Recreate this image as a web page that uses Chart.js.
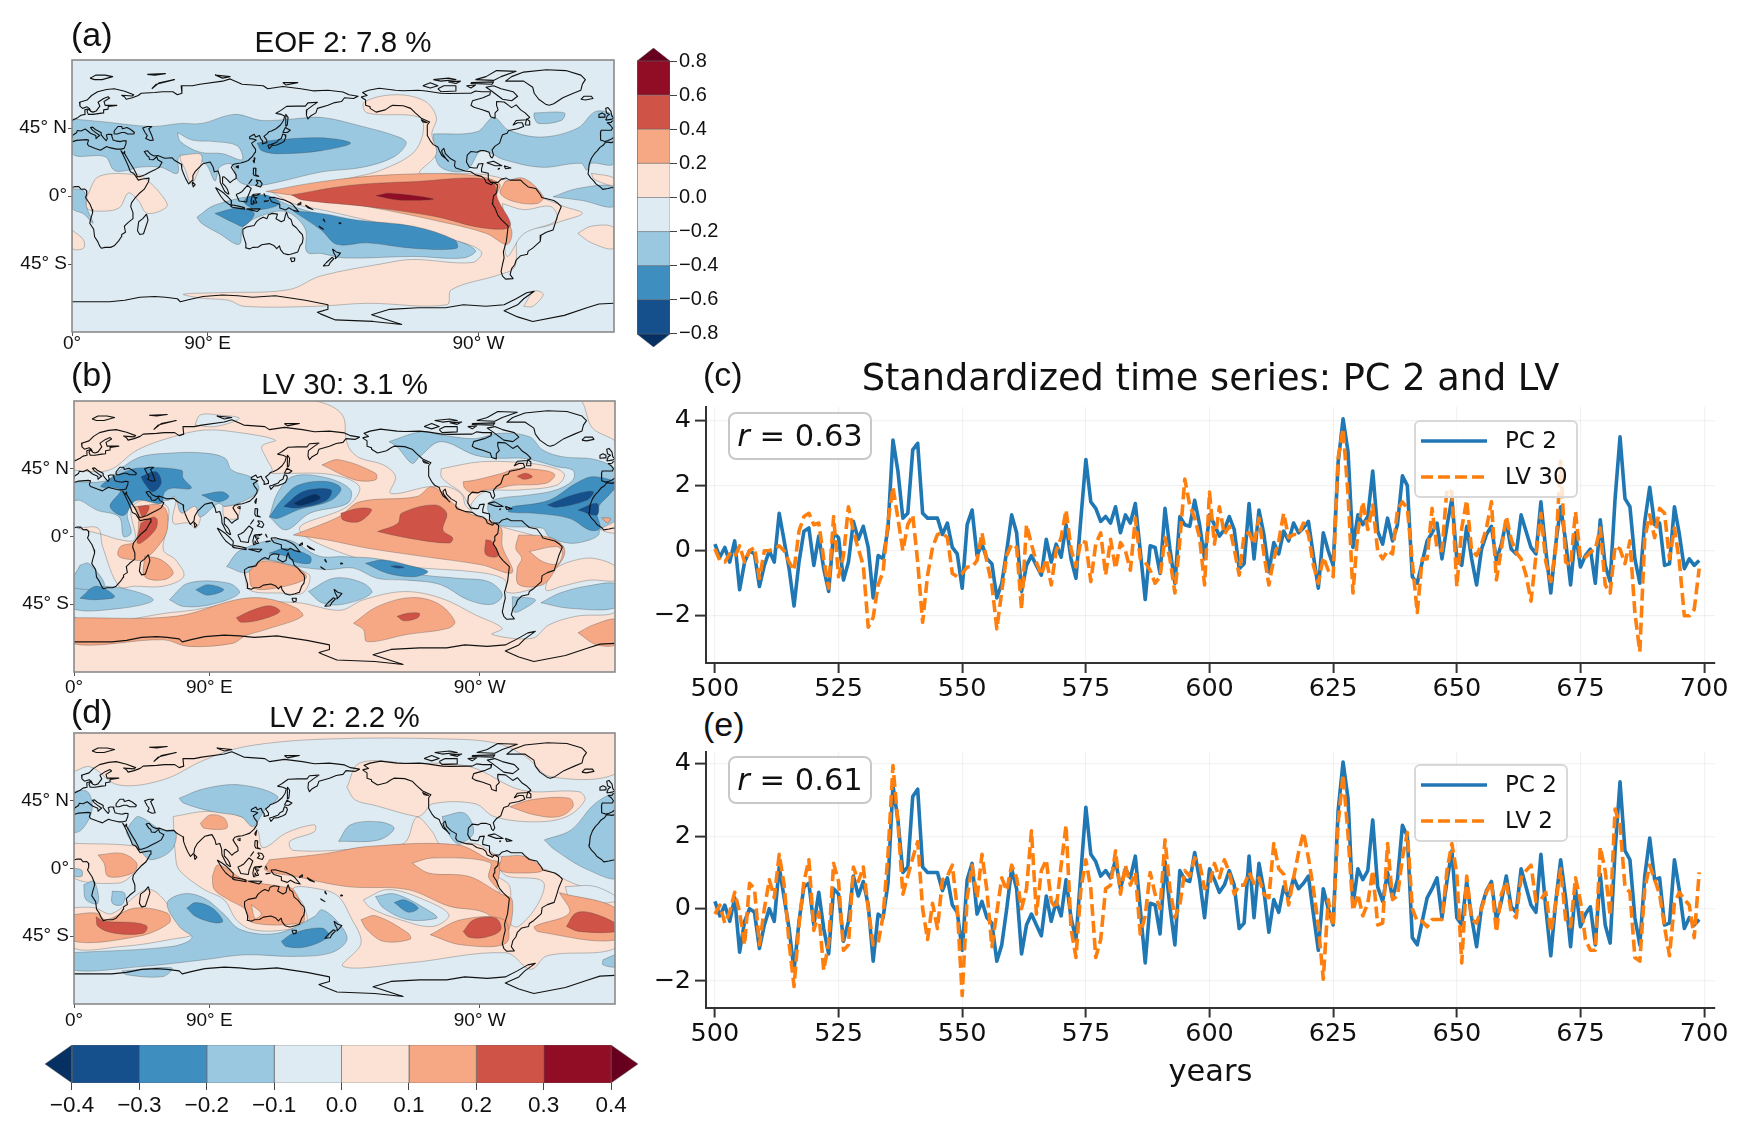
<!DOCTYPE html>
<html><head><meta charset="utf-8">
<script src="https://cdn.jsdelivr.net/npm/chart.js@4"></script>
<style>
html,body{margin:0;padding:0;background:#fff;width:1748px;height:1130px;overflow:hidden}
canvas{position:absolute;display:block}
.t{position:absolute;z-index:5;white-space:nowrap;color:#111}
.panel{font:34px/1 "Liberation Sans",sans-serif}
.rbox{z-index:6;box-sizing:border-box;border:2px solid #c8c8c8;border-radius:8px;background:rgba(255,255,255,.82);font:30.5px/1 "DejaVu Sans",sans-serif;display:flex;align-items:center;justify-content:center}
.leg{z-index:6;box-sizing:border-box;border:2px solid #d8d8d8;border-radius:6px;background:rgba(255,255,255,.8);font:23px/1 "DejaVu Sans",sans-serif}
</style></head><body>
<script>
// ---------- time series (standardized), years 500..699 ----------
const firstYear = 500;
const pc2 = [0.2,-0.2,0.1,-0.35,0.3,-1.2,-0.35,0,-0.1,-1.1,-0.45,0,-0.35,1.15,0.3,-0.55,-1.7,-0.35,0.6,0.7,
-0.45,0.45,-0.55,-1.25,0.55,0.4,-0.9,-0.35,0.9,0.35,0.75,0.1,-1.45,-0.15,-0.25,0.7,3.4,2.45,1.0,1.15,
3.1,3.3,1.15,1.0,1.0,1.0,0.5,0.85,0.1,-0.1,-1.15,0.8,1.25,-0.15,0.2,-0.25,-0.4,-1.45,-1.0,0,
1.1,0.55,-1.25,-0.45,-0.15,-0.45,-0.75,0.35,-0.35,0.2,-0.2,0.8,-0.25,-0.85,1.0,2.8,1.5,1.3,0.9,1.05,
0.85,1.35,0.55,1.1,0.85,1.45,0,-1.5,0.15,0.1,-0.7,1.3,0.05,-1.0,1.05,0.8,0.75,1.55,0.8,-0.25,
1.1,0.8,0.45,0.65,1.05,0.65,-0.55,-0.4,1.45,-0.25,1.25,0.5,-0.65,0.25,-0.1,0.6,0.3,0.85,0.55,0.7,
0.9,-0.15,-1.15,0.55,0,-0.45,2.7,4.05,3.05,0.1,1.1,0.8,1.05,2.45,0.6,0.2,1.0,0.3,0.8,2.3,
2.0,-0.8,-1.0,-0.35,0.3,0.55,0.85,-0.25,0.75,1.6,-0.25,-0.45,0.75,-0.25,-1.05,0.05,0.5,0.75,-0.3,0.2,
0.9,0.05,-0.1,1.1,0.6,0.1,-0.1,1.5,0,-1.3,0.2,1.35,0.3,-1.05,0.55,-0.5,-0.15,0.05,-1.0,0.95,
-0.45,-0.95,1.6,3.5,1.6,1.35,-0.25,-1.0,0.9,1.95,0.8,0.85,-0.45,-0.4,1.35,0.5,-0.55,-0.25,-0.45,-0.3];
const lv30 = [0.05,-0.3,-0.35,-0.1,-0.2,0.15,-0.35,0,0.1,-0.85,0,0,0.05,0.15,0,-0.35,-0.6,0.6,1.05,1.15,
0.8,0.85,-0.25,-1.15,1.05,-0.8,-0.15,1.35,0.6,0.05,-0.45,-2.35,-2.05,-1.05,-0.65,0.9,1.95,1.0,0,0.8,
1.1,-0.35,-2.2,-0.75,0.1,0.5,0.55,0.4,-0.7,-0.8,-0.7,-0.5,-0.5,-0.3,0.55,-0.35,-1.05,-2.4,-1.25,-0.15,
0.2,0.1,-1.8,0.8,0.2,-0.35,-0.75,-0.25,-1.05,0,0.4,1.25,0.05,-0.5,0.3,0.25,-0.95,0.2,0.55,-0.75,
0.35,-0.55,0.25,0,-0.6,1.0,-0.25,-0.35,-0.6,-1.0,-0.8,0.4,-0.25,-1.3,0.3,2.2,1.4,1.0,0.4,-1.05,
1.8,0.2,1.35,0.5,0.75,0.05,-0.75,0.5,0.55,0.2,1.0,-0.1,-1.05,-0.25,0.3,1.15,0.4,0.5,0.5,0.85,
0.5,-0.45,-1.0,-0.2,-0.6,-0.8,2.85,3.75,1.75,-1.3,0.6,1.5,0.65,1.4,0,-0.25,0,-0.1,1.25,1.5,
1.3,-0.35,-1.9,-0.25,-0.25,1.3,0.05,0,1.9,1.8,-1.1,0.7,1.55,0,-0.15,0.2,0.7,1.5,-0.9,0.05,
1.05,0.35,-0.05,-0.25,-0.75,-1.55,-0.15,1.15,-0.35,-0.95,0.05,2.75,-0.35,-0.45,1.2,-0.25,-0.2,-0.05,0.05,0.7,
-1.05,-1.3,0.15,0.05,-0.4,0.3,-1.9,-3.1,0.4,1.1,0.4,1.3,1.15,-0.25,0.7,-0.35,-2.0,-2.0,-1.8,-0.55];
const lv2 = [-0.15,0.1,-0.4,-0.1,0.45,-0.1,-1.0,0.7,0.55,-1.0,0,0.8,0.3,1.5,0.65,-0.95,-2.15,-0.45,0.75,1.35,
-0.6,-0.1,-1.7,-0.95,1.25,0.75,-1.15,-1.0,1.15,0.75,1.15,0,-1.0,-0.95,-0.2,1.5,3.95,2.4,0.4,0.9,
1.4,1.85,0,-0.85,0.15,-0.55,0.8,0.9,1.2,0,-2.4,0.3,1.2,0.3,1.5,0.5,-1.05,-0.1,0.85,0.5,
1.2,0.85,0,0.55,2.15,-0.15,1.05,1.35,0.2,0,1.2,2.3,-0.55,-1.35,0.55,1.35,0.55,-1.35,-0.85,0.55,
0.65,1.6,0.4,1.2,0.65,1.0,-0.7,-0.2,1.0,0.4,0,1.9,0.55,-0.25,0.1,1.05,0.9,1.4,1.25,0.55,
0.65,1.25,0.85,1.35,1.0,0.4,0.65,0.65,1.0,0.7,0.85,0.4,0.3,1.8,1.1,0.95,0.1,0.85,1.55,2.1,
1.4,0.55,-0.45,-1.95,0.25,-0.5,2.35,3.7,2.05,-0.05,0.4,-0.2,0.15,1.05,-0.45,-0.4,1.8,0.25,0.35,1.4,
2.1,0,-0.35,-0.35,-0.5,-0.3,-0.3,-0.3,1.05,1.8,0.95,-1.5,0.9,-0.3,-0.4,0,0.45,0.75,-0.65,0.4,
0.75,-0.1,-0.25,0.85,1.05,1.2,0.2,0.25,0.45,-0.65,0.15,1.1,-0.3,-0.5,0.85,0.2,-0.85,-1.15,-1.15,1.7,
1.05,-0.2,2.75,2.3,0.6,0.45,-1.35,-1.45,0.55,1.2,0.8,0.4,-0.5,-1.3,0.15,0.45,0.25,0.1,-0.8,1.0];
const yearTicks = [500,525,550,575,600,625,650,675,700];
const seriesTicks = [-2,0,2,4];
const mapLonTicks = [0,90,270];
const mapLonLabels = ["0°","90° E","90° W"];
const mapLatTicks = [-45,0,45];
const mapLatLabels = ["45° S","0°","45° N"];
const eofBarTicks = [-0.8,-0.6,-0.4,-0.2,0,0.2,0.4,0.6,0.8];
const lvBarTicks = [-0.4,-0.3,-0.2,-0.1,0,0.1,0.2,0.3,0.4];
// ---------- contour colours ----------
const levelColors = {"-0.9":"#053061","-0.7":"#15508d","-0.5":"#3f8ec0","-0.3":"#9ac8e0","-0.1":"#deebf2","0.1":"#fce2d4","0.3":"#f6a885","0.5":"#cf5347","0.7":"#910d26","0.9":"#67001f"};
const globe = [0,-90,360,-90,360,90,0,90];
// ---------- panel (a) EOF 2: contour regions as [level, lon,lat,...] ----------
const eofRegions = [
[-0.1,globe],
[-0.3,[0,51,22,49,53,46,72,48,86,48,108,54,126,50,147,51,166,52,193,46,217,39,222,35,214,26,193,19,166,16,138,9.5,123,7,111,9.5,106,21,98,19,95,10,89,21,79,26,71,26,70,15,59,19,44,19,37,17,28,17,22,26,0,28]],
[-0.1,[70,42,80,37,95,36,110,33,113,24,100,28,85,29,72,36]],
[-0.3,[240,41,269,42.5,280,52,290,43.6,312,39,336,45,348,56,360,52,360,21.6,345,21.6,342,17,338,21.6,312,19,287,24,272,30,262,17,245,19,240,32.6]],
[-0.3,[307,55,327,55,325,50,310,48,307,52]],
[-0.3,[319.5,-0.5,336,5,360,6,360,-7,339,-3]],
[-0.3,[0,5,8,3,10,-8,14,-18,8,-12,0,-8]],
[-0.3,[83,-14,95,-6,126,0,147,-7,172,-14,212,-20,251,-28,268,-36,260,-41,226.5,-40,181,-41,165.5,-38,156,-37,155,-22,144,-11,132,-11,114,-20,111,-32,98,-25,86,-18]],
[0.1,[72,27,86,27,82,12,79,8,75,18,72,24]],
[0.1,[132,3,160,7,190,13,205,17,226,28,233,41,231,52,196,55,194,62,214,67,234,63,242,52,239,41,242,28,231,15,257,15,275,14,290,10,300,4,327,-7,339,-11.5,324,-17,315,-20,297,-25,294,-47,284,-52,252,-62,249,-72,196,-71,162,-73,114,-73,104,-69,86,-67.6,74,-65,98,-64,144,-62,165,-53,208,-44.5,226,-42,266,-44,272,-37,257,-30,228,-23,196,-16,170,-10,147,-5]],
[-0.1,[286,-5,300,-9,318,-7,322,-16,300,-25,289,-40,287,-20]],
[0.1,[300,-73,307,-63,313,-65,306,-73]],
[0.1,[10,0,18,13,44,14,50,10.5,60,0,63,-7,50,-11.5,44,-3,37.5,2,31,-8,16,-10,10,-8]],
[0.1,[336,-24.7,345,-20,360,-21,360,-34.6,345,-31]],
[0.1,[0,-22.5,7.6,-29,7.6,-34.6,0,-34.6]],
[0.1,[345,15,360,12,360,7,347,11]],
[-0.5,[123,35,135,37,165.5,38.5,185,35,165.5,30,138,28,126,30]],
[-0.5,[95,-11.5,111,-8,121,-11.5,114,-20,108,-18]],
[-0.5,[147,-10,165.5,-11.5,190,-16,226.5,-20,254,-29,255.5,-34.6,226.5,-34.6,196,-31,176,-32,165.5,-22.5]],
[-0.5,[117,-0.5,129,0.6,138,-5,123,-9,114,-4]],
[0.3,[129,3,165.5,9.5,211,14,263,14,284,8,281,-2.6,292,-22.5,289,-32,275,-24.7,245,-17,196,-7,160,-1.5]],
[0.3,[287.5,9.5,300,11.7,313,-0.4,309,-5,293.6,-3.7,284.5,1.8]],
[0.5,[146,0.7,184,7,226.5,9.5,278,10.6,283,-2.6,291,-20,272,-21,242,-13.7,196,-7,153,-2.6]],
[0.7,[202,0.2,211,1.8,240,-2,217,-2.6]]
];
// ---------- panel (b) LV 30 ----------
const lv30Regions = [
[0.1,globe],
[-0.1,[-2,44,23,44,42,57.4,65,66,87,70.7,110,69,134,64,125,60,128,52,132,44,130,42,140,42,172,41,190,33,182,20,150,5,184,-13,222,-20,271,-24,287,-29,288,-37,304,-35,323,-24,362,-20,362,-48.8,334,-53,316,-58.7,305,-67.6,278,-65,285,-61,267,-52,244.4,-41,219.7,-36.6,192.7,-42,177,-49,149,-44,108,-44,70,-50,-2,-51]],
[-0.1,[148,92,334,92,345,72,362,60,362,-20,323,-24,320,-6,283,7,276,9,261,20,258,28,249,33,242,33,235.4,33,210.7,28.7,214,39.7,206,47.5,190.5,52,184,57.4,181,65,179,80,168,88]],
[-0.1,[80.5,74,84,80.7,96,80.7,110,78.5,94,73]],
[0.1,[318,-22,330,-16.7,345.5,-14.5,362,-21,362,-29,343,-29,325,-33,314,-35.5]],
[0.1,[244.4,45,271.4,49.7,303,48.6,321,45,326.4,40.8,321,34,296,30.9,273.6,29.8,264.6,22,264.6,17.6,258,28.7,249,35.3,244.4,39.7]],
[0.1,[350,12,362,17,362,3,350,5]],
[0.1,[2.4,5.5,16,5.5,19,-6.6,30,-33,40.5,-33,59.5,-33,73,-26.5,67.6,-15.5,59.5,-9,62,6.6,62,20,46,24,38,18,40.5,-2,30,-2,20,1]],
[0.1,[68,24,78.5,24,84,13,81,5.5,76,9,66,9]],
[0.1,[99,20,110,20,108,12,100,13]],
[0.1,[114,-24,125,-15.5,149,-22,157,-26.5,152,-37.6,138,-37.6,116.5,-35.4]],
[-0.3,[22,37,42,52,64.7,55.4,87,55.4,100.5,52,105,44,118.7,39,123,31,114,24,100.5,20,96,22,84,13,80.5,20,71.5,15.6,67,26.4,62.5,24,42,24,35.5,15.6,38,2.3,33,0,30,13,15,17.6,4,24,-2,24,-2,35,15,36]],
[-0.3,[130,13,135.5,29,146,40,168,39,184,31,182,22,157,15.5,141,4.4]],
[-0.3,[101.5,-20,111,-9,141,-2,163,-13,180,-13.4,206,-15.6,226.4,-24.4,255.6,-27.8,276,-30,285,-38.8,278,-45,262,-42,244,-32,222,-29,201.7,-27.8,186,-21,168,-22,149,-20,125,-15.5,115,-24]],
[-0.3,[156,-36.5,173.5,-27.6,192.5,-31,198,-37.6,179,-45,165,-44]],
[-0.3,[63.5,-42,76,-31,103,-31,110,-37.6,92,-45,73,-46.5]],
[-0.3,[-2,-33,30,-34,52.7,-42,32,-47.6,-2,-47.6]],
[-0.3,[4,-19,10,-18,20,-33,-2,-33]],
[-0.3,[310.7,-44,323,-37.7,341,-33,362,-32,362,-46.6,330,-47.7]],
[-0.3,[291.6,-40,307,-42,298,-48.8,292.7,-50]],
[-0.3,[209.6,63,231,69.6,244.4,67.4,267,65,282.6,68.5,303,66.3,312,57.4,325,53,348,50.8,362,42,362,13,350,4.4,349,1,343,-2.3,330,-4.5,316,0,312,5.4,282.6,7.6,276,15.4,276,22,282.6,25.3,303,27.6,321,31,332,37.5,332,44,321,46.4,309.6,49.7,298,52,282.6,52,267,54,244,63,230,53,225,48.6,215,59.6]],
[-0.5,[29,41,42,45.4,71.5,44,72.5,39,78,32,64.7,32,60,29,58,22,41,24,33,14,24,20,31,31,18,33,22,37]],
[-0.5,[85,27.6,98.5,29.7,103,26.4,96,23]],
[-0.5,[130,13,138,24,149,34,168,36.5,177.6,32,171,24,149,17.7,135.5,12]],
[-0.5,[130,-11,141,-8,157,-13,157,-17.7,146,-16.6,141,-13]],
[-0.5,[194,-17.8,206,-15.6,222,-19,235.4,-23.3,226.4,-26.7,208.5,-24.4]],
[-0.5,[81,-35.4,89,-32,99.6,-35.4,89,-39]],
[-0.5,[4,-41,14.7,-33,27,-40,13.5,-42]],
[-0.5,[291.6,19.8,316,24,334,35.3,345.5,39.7,362,35,357,28.7,348,17.6,350,5.4,343,4.3,330,12,307,15.4,289,16.5]],
[-0.7,[139.6,20,153,30,171,31,168,24,149,19]],
[-0.7,[44.6,39.7,54.6,43,58,35.5,52.4,29.7,46.8,35.5]],
[-0.7,[315,21,332,27.6,345.5,29.8,341,24,321,19.4]],
[-0.7,[335.4,17.6,348,22,348,14.3]],
[-0.7,[210.7,-19.6,215,-19.4,219.7,-20.5,215,-21]],
[-0.9,[146,22,160,28,164,25.4,151,20.6]],
[0.3,[-2,-54,67.6,-53,108,-42,127,-41,148,-47.6,152,-53,127,-62,114,-66,105.6,-71,76,-73,59.5,-68.6,-2,-71]],
[0.3,[186,-57.6,201.7,-46.6,224,-40.6,242,-44.4,253.4,-56.5,249,-61,222,-65,195,-69.8,192.7,-62]],
[0.3,[335.4,-64,345.5,-58.7,362,-55.4,362,-71,348,-72]],
[0.3,[146,1,176,13,190,23,228,26.5,238.7,33,257.7,17.7,283.5,6.6,285,-6.6,291.6,-24,271,-18.8,230.5,-13,195,-7.7,168,-2.2]],
[0.3,[165,47.6,176,51,200.7,42,200.7,37.6,187,37.6]],
[0.3,[259,36.4,267,37.5,285,42,294,45,314,43.7,320,40.8,314,35.3,291.6,34,282.6,32,273.6,30.9,266,28.7,260,32]],
[0.3,[296,1,314,0,325,-5.6,326.4,-12,321,-21,312,-32,296,-32,295,-21,298,-14.5,294,-8]],
[0.1,[303,-10,321,-6.7,325,-10,322,-18,312,-16.7]],
[0.3,[351,12.5,357,12,355,9]],
[0.3,[40.5,20,59.5,20,62,4.4,54,-8.8,46,-15.5,39,-15.5,29.6,-13,31,-6.6,40.5,-3.3,43,11]],
[0.3,[47,-13,58,-15.5,66,-24,59.5,-28.8,47,-26.5]],
[0.3,[116.5,-23,125,-16.6,149,-21,154.5,-27.6,135.5,-34,119,-34]],
[0.5,[44.5,8.8,52.7,13,55.4,11,54,4.4,44.5,-4.4,42,-4]],
[0.5,[42.6,20,50,20,46,13]],
[0.5,[177.6,15.5,190,18.8,198,17.7,190,10,179,11]],
[0.5,[202,3.3,215.6,8.8,218,15.5,240,21,248,15.5,245.5,4.4,252,-1,249.6,-4.4,222,-1]],
[0.5,[274,-2.2,278,-3.3,282,-13,274,-12]],
[0.5,[108,-54,116.5,-49.8,130,-46,137,-49.8,124,-55.3,111,-56.9]],
[0.5,[215,-53,222,-51,229.8,-51,228.7,-54,219.7,-56]],
[0.5,[295,40,300.6,42,305,39.7,299.5,38]]
];
// ---------- panel (d) LV 2 ----------
const lv2Regions = [
[-0.1,globe],
[0.1,[-2,92,362,92,362,64,317,61,301,74,282,83,249.5,86,168,86,114,81,86.6,72,59.5,59,29.6,55.5,10.6,67.7,-2,65]],
[0.1,[181.6,54,190,70,222,70,263,67.7,298,52,336,51,340,45.6,328,34.5,306.5,31,279.5,34.5,267,43,238.7,43,232,36,228,34.5,200,42,187,45.6]],
[0.1,[66,34.5,89,38,111,34.5,122,25.7,124.6,14.6,128.7,14.6,141,23.5,160,29,160,24.5,143.6,18,146,12,195,13.5,219.7,16.8,228,34,238,25,245,15,265.8,16.8,283.5,8,314.7,-1,327,-7.5,362,-25,362,-51.8,314.7,-58,304,-67,287.5,-56,222,-62.8,179,-65,191,-49.6,184,-32,176,-18.6,165,-14,146,-13,153,-25,154.5,-36,141,-40.7,119,-40.7,108,-34,100,-20.8,86.6,-14,70,-1,67.6,8]],
[-0.1,[282,1.3,288,-5,312,-8.6,309,-23,295.7,-38.5,290,-36,290,-12,281,-4]],
[-0.1,[192.5,-20.8,209,-14,233,-20.8,249.5,-30.8,238.7,-38.5,217,-34,197.5,-26.3]],
[-0.1,[327,-12,347,-12,362,-20.8,342,-23,329,-18]],
[0.1,[-2,16.8,43,14.6,50,9,40,-3,29.6,-9.7,-2,-5]],
[0.1,[-2,-26,13.3,-26,25,-30,50,-14,69,-32,79.8,-43,65,-47,32,-51.8,-2,-51.8]],
[-0.3,[-2,-56,65,-51.8,78.5,-46,70,-38.5,62,-23,73,-16.8,86.6,-19.7,99,-29.6,111,-40.7,135.5,-43,160,-31.9,165,-27.4,176,-36,181.6,-47.3,171,-56,146,-58.4,113.8,-57.3,86.6,-60.6,46,-65,-2,-67.3]],
[-0.3,[32,-68,65,-66,59.5,-71.7,35,-70.6]],
[-0.3,[352,-60.6,362,-57.3,362,-65,352,-64]],
[-0.3,[70,46.7,86.6,53,111,55.5,135.5,47.8,127,39,119,27.9,111,34.5,92,37.8,73,43.4]],
[-0.3,[-2,51,9,51,12,39,5,25.7,-2,24.6]],
[-0.3,[37.7,30,43,34.5,58,25.7,67.6,24.6,65,12.4,51.3,5.8,44.5,11.3,35,23.5]],
[-0.3,[176,18,184,29,203,31,213,26.8,203,19]],
[-0.3,[245,34.5,260,36.7,265.8,23.5,255,16.8,246.8,27.9]],
[-0.3,[313,19,331,25.7,347,43.4,362,48.9,362,-5.3,342,-0.9,320,12.4]],
[-0.3,[200.6,-18.6,214,-17,238.7,-29.6,241.4,-33,222.4,-34,206,-26.3]],
[-0.3,[6.5,-10.8,13.3,-8.6,16,-23,8,-20.8]],
[-0.3,[25.5,-15,33.7,-16.4,32,-24,25.5,-23]],
[-0.3,[-2,0.2,5,-1,5,-5.3,-2,-4.2]],
[-0.5,[75,-26.3,81,-22.6,92,-26.3,99,-35,93.4,-36,81,-31.9]],
[-0.5,[138,-48.4,146,-43,165,-39.6,169.4,-45,154.5,-52,141,-51.8]],
[-0.5,[213,-22.6,219.7,-20.8,229,-26.3,222.4,-29]],
[0.3,[92,-5.3,96,2.4,113.8,-7.5,138,-12,146,-14,153,-30,152,-36,119,-36,113.8,-27,103,-20.8,93.4,-14]],
[0.1,[118,-24,124.6,-30,120.5,-33]],
[0.3,[130,5.8,168,10,195,14.6,255,15.7,276.7,5.8,283.5,3.5,282,-15,291.6,-20.8,287.5,-43,274,-29.6,249.5,-25,222,-14,181.6,-12,146,-5,127,-1]],
[0.1,[225,3.5,238.7,7,276.7,4,276,-6,283.5,-16,263,-5.3,236,-3]],
[0.3,[284.8,8,299.8,8,312,-1,298,-3,283.5,-1]],
[0.3,[323,-16,362,-27.4,362,-47,309,-42,306.5,-38.5,329.6,-29.6]],
[0.3,[237,-44,257.7,-34,286,-34,287.5,-49.6,257.7,-50.7]],
[0.3,[191,-34,200.6,-31.4,222.4,-43,223.7,-47,206,-48.4,195,-40.7]],
[0.3,[290,41,304,45.6,329.6,46.7,332,41,322.8,34.5,306.5,35.6]],
[0.3,[16,9,32,10,41.8,3.5,39,-3,22.8,-5.3,20,3.5]],
[0.3,[-2,-30.8,14.7,-29.6,21.4,-34,40.5,-26.3,62,-29.6,63.5,-36,43,-45,-2,-47.8]],
[0.3,[84,30,90.7,35.6,100,33.4,101.5,26.8,86.6,26.8]],
[0.5,[14.7,-32,20,-35,40.5,-36,48.6,-38.5,46,-43,27,-43,16,-38.5]],
[0.5,[259,-41.8,266,-34,280.7,-33,284,-40.7,274,-45.6,262.8,-45.6]],
[0.5,[327.7,-38.5,334,-29.6,344.6,-29.6,362,-37.4,362,-41.8,336,-41.8]]
];
// ---------- coastlines, lon,lat ----------
const coastlines = [
[0,5.6,2,6.3,4.5,6.2,6,4.5,8.5,4.6,9.6,3.5,9.8,1,9,-1,11,-4,12,-5.5,13.4,-9,13.7,-11,12.5,-15,11.8,-18,14.4,-22,15,-27,17,-30,18.3,-33,19.5,-34.6,22,-34,25.6,-34,28,-33,31,-29.7,32.8,-27,33,-25.5,35.5,-24,34.8,-20,37,-17.8,40.5,-15,40.5,-11,39,-7,39.5,-4.5,41.5,-1.8,45,2,48,4.5,50.8,9.5,51.2,11.8,47,11.2,44,10.5,43.2,11.7,41,15,38.8,16,37.3,20,35.5,24,33.8,27.5,32.6,29.8,32.5,30,34,27.9,34.9,29.5,35,28,36.5,25.5,38.8,21.5,41,18,42.8,14.5,43.4,12.7,45,12.8,48.5,14,52.2,16,55,17.3,58,19,59.8,22.4,57,24,56.3,26,54,24,51.5,24.2,51,26,50,26.5,48,29.5,50,30,52,27.8,54.5,26.5,57,26.8,61.5,25,66.5,25.3,68,23.7,70,22.5,72.6,21,72.9,18,74,15,75.5,11.5,77.5,8,79.8,10.3,80.3,13.5,82,16.5,85,19.5,87,21.4,89.5,22,91.8,22.5,93.8,19,94.5,16,97,16.6,98.2,13,98.5,9,100,6,101.5,3,103.5,1.4,104.2,1.4,103.2,4.5,102,6.3,100,8.3,100,12.5,101,12.7,103,11,105,8.8,107,10.5,109.2,11.8,109,14,107,17,105.8,19,107,20.8,109.7,21.5,112,21.8,114,22.4,117,23.5,119.7,26,121.7,29,121.9,31,120,33.5,119.3,35,122.3,37,120,37.8,118,38,118,39.2,121,40.8,122,39,124.5,40,125.3,38,126.6,36.5,126.5,34.5,129.2,35.3,129.4,37,127.5,39.5,129.7,41.3,130.7,42.5,132.5,43,135.5,44.5,138.5,47,140.5,50,141.3,53,139,54,135.5,54.7,138.5,56.5,142.5,59.3,149,59.5,155,59.5,156.7,61.6,163,62,160,60,156,57,155.7,53.5,156.7,51,158.5,53,162,55,163,58,170,60,174.5,61.8,179,62.5,181,65,187,64.5,190,66,184,67,180,68.8,170,70,160,69.6,152,71,140,72.5,130,71,127,73,113,74,105,77.5,100,76,85,74,80,73,72.5,73,73,68,70,67,67,69,60,69,55,68.5,46,68,44,66.5,40,65,36,64,35,65.5,33,66.7,40,66.2,41,67,35,69.3,28,71,23,70.5,17,69,13,66.5,10,63.5,5,62,5.3,59.5,7,58,10,59,11.5,58,12.5,56,10.7,57.6,8.5,57,8.7,54,6,53.4,4,52,2,51,0,50],
[12.5,56,14,55.5,16,56.2,18.5,59.5,17.3,62,21,64.5,24,65.7,25,64.8,21.3,62.5,22,60,24.8,60,29.8,60,24,59.2,24,57.5,21,57,21,55,18.5,54.7,14,54,10.8,54,10,56,10.7,57.6],
[360,49.8,358.5,49.5,358,48.7,355.5,48.4,357.5,47,359,45,358.2,43.5,351.5,43.5,351,42,351,38.7,351.2,37,354,36.1,356,36.7,358,37.5,359.5,38.5,360,38.8],
[0,38.8,0.2,40,3,41.8,3.5,43.3,6,43,8.8,44.3,10.5,43,12.3,41.5,15.8,40,16,38,17,39,18.4,40,16,41.8,13.6,43.6,12.3,45.3,13.7,45.6,15.5,44,19.3,42,19.4,40.5,21,38.5,22.7,36.6,23.5,38,22.8,40.4,24,40.8,26,40.8,26.5,39.5,27.3,37,29,36.5,32,36,34,36.6,36,36.5,35.8,34.5,34.6,31.5,32.5,31,29.5,31,25,32,23,32.7,20,31,19,30.3,15.5,31.5,11,33.2,10.2,34.5,11,37,9.5,37.3,3,36.8,0,35.8],
[360,35.8,358,35.3,354.5,35.8,353,33.7,350.5,32,349,30,347,28,345,25,343.5,21,343,16,342.7,14.7,344.5,12,346.5,10,348,8,351,6,352.5,4.4,356,5,358,5.5,360,5.6],
[28,41,28,43,30.5,46,33,46,33.5,44.5,36.5,45.3,39,44,41.5,42,41,41,37,41,35,42,33,42,30,41,28,41],
[50,46,47,45,48.5,42,50,40,49,38,52,36.7,54,37,53,40,51,44.5,53,46,50,46],
[49.5,-12,50.5,-16,47.5,-25,45,-25.5,43.5,-23,44.3,-17,47,-15,49.5,-12],
[113.5,-22,116,-20.5,121,-19.5,122.5,-17,125,-15,127,-14,129.5,-15,130.5,-12.4,133,-11.5,136.5,-12,135.5,-15,139,-17,141,-16,141.7,-12.8,142.5,-10.8,143.7,-14.3,145.5,-15.5,146.5,-19,149,-21,151,-23.5,153,-25.5,153.5,-28,153,-31,151.5,-33,150,-37,147,-38,145,-38.5,143.5,-38.8,140.5,-38,138.5,-35.5,137.8,-33,136,-34.8,134,-32.7,131,-31.5,126,-32.3,123.5,-33.9,120,-34,118,-35,115.2,-34.3,115.5,-31.5,114.2,-27.5,113.5,-25,113.5,-22],
[173,-35,175.5,-37,178.3,-37.8,176.5,-40,175,-41.5,175,-39.5,174,-38,173,-35],[172.7,-40.7,174,-41.5,171.5,-44,170.5,-46,167,-46.3,169,-44,172.7,-40.7],
[145,-41,148,-41,147.8,-43,146,-43.5,145,-41],
[131,-1,134,-0.8,138,-2,141,-2.7,145,-4.5,147,-6,150.5,-10.3,147,-9.5,144,-7.8,142,-9.2,138,-8,138,-5.5,133,-4,132,-2.8,131,-1],
[109,1,111,1.8,113,3,116.5,7,119,5,117.8,2,116.5,-1,116,-4,111,-3.3,110,-1,109,1],
[95.3,5.6,98,4,101,1.8,104,-1,106,-3.2,105.8,-5.8,104.5,-5.7,101,-3,98.7,0,95.3,5.6],
[105.2,-6.7,106.8,-6,110.5,-6.7,114.5,-7.7,114.5,-8.7,110,-8,106.5,-7.4,105.2,-6.7],
[116,-8.5,119,-8.4,125,-8.5,123,-10.3,120,-9.5,116,-8.5],
[119.8,0.8,121,1.2,125,1.5,123,0.5,120.5,0.3,121,-1,123,-1,121.5,-2,122.8,-4.5,121.5,-4.8,120.5,-3,120.4,-5.5,119.5,-5.4,119,-3,119.8,0.8],
[127.5,1.7,128.5,-0.5,127.8,0.5,127.5,1.7],[127.5,-3.3,130.5,-3.2,128,-3.7,127.5,-3.3],
[120.5,18.5,122.2,18.4,122,16,122,14,124,13,121,13.6,120.3,15,120.5,18.5],[122.2,10.5,125,10,126.3,8,125.3,6,122,7,123.5,8.5,122.2,10.5],[118,9,119.5,11,117.5,8.3,118,9],
[130,33.5,132,34,136,35.6,137,37,139,38,140,41,141.5,40.5,142,39,140.8,36,139,35,136,33.8,133,33.5,131,31.3,130,33.5],
[140,42,141.7,45.3,145,43.5,143,42,141,42,140,42],[142,46,142,54,143.5,52,143,47,142,46],
[120.2,23,121.5,25.2,121,22,120.2,23],[108.7,19.3,110.5,20,110.5,18.5,108.7,19.3],[79.8,9.5,81.8,7.5,80.5,6,79.8,9.5],
[155,-6,160,-9,157,-8,155,-6],[150,-5.5,152,-4.2,152,-5.5,150,-6,150,-5.5],[167,-15,168,-17,167,-16,167,-15],[164,-20,167,-22,165,-21,164,-20],[177.5,-17.5,178.7,-18,177.5,-18.3,177.5,-17.5],
[354.5,50.2,358,50.7,359.9,51.5,358.5,53,358,56,356,58.5,354.5,58,355,55,357,54,355.5,53,355,51.5,354.5,50.2],[350,52,353.5,52.2,354,54,352,55,350,54,350,52],
[338,64,340,66,345,66,346,64.5,341,63.5,338,64],
[317,60,320,61,326,65,333,68,338,70,339,74,341,77,338,80,328,83,315,83.5,300,82,292,79,288,76,300,76,306,72,307,68,310,64,315,60.5,317,60],
[192,65.5,196,66.5,193,68.5,197,70,204,71.3,215,70,220,69.7,230,70,235,69.5,245,68,250,67.8,262,68,265,68,268,69.5,272,69,278,69,277.5,67,273,65,266,63,265,60,267,58.7,272,57.3,277,55.5,278,52.5,281,51.5,281,55,283,57,282,60,282,62.5,287,62.2,290,60,292,58.5,295,60.3,298,57,301,55,304,52,302,50.5,295,50,293,47,296,48.5,299,48.5,300,46,296,44.5,293.5,44,290,43.3,289,41.5,286,40.5,285,38,284,35,281,33,279,30.5,280,27,279,25.2,278,26,277,29,274,30,271,30,269,29,265,29.5,262.5,27,262,22.5,264,19,267,18.5,269,18.5,270,21.2,273,21.5,272,18,272,16,276.5,15,276.5,11,278,9,281,9,283,9,285,11,287,11.5,288,12,291,10.5,298,10.5,300,8.5,303,6,308,5,311,1,312,-1,316,-2,320,-3,323,-5,325,-7,322.5,-13,321,-18,319.5,-22.5,315,-24,311.5,-26,311,-30,306,-34.5,303,-36.5,302.5,-38.5,298,-39.5,295,-42.5,294,-45.5,292,-48,291,-52,293,-54.7,288,-55,286,-53,285,-50,286,-45,287,-41,286.5,-37,288.5,-30,289.7,-20,285.5,-16,283,-13,281,-8,279,-5,279.5,-3,280,0,282,2,282.5,6,282.5,7.5,280,9,278.5,7.5,275,9,274,11.5,272,13,268,14,265,16,261,16.5,255,18.5,254,20,254.5,23,251,25,248,28,247,31.5,245.5,30,246,28,249,24,250,23,248,25,245.5,27,244,30,243,32.5,240,34,238,36.5,236,40,236,43.5,236,47,237.5,49,232,51.5,228,55,225,58,220,59.7,213,60,211,59,208,57,202,55.5,198,58,198,59,195,60,195,63.5,192,65.5],
[280,73,285,71,293,69,296,66,292,63,286,64,282,67,278,70,275,72,280,73],[243,71,247,73,255,73,255,69.5,245,69,243,71],[233,73,238,75,243,73,238,71.5,233,73],[268,77,275,79,282,83,295,82.5,285,79,280,76.5,268,77],[265,75,280,75.5,279,74,265,74.5,265,75],[250,75.5,258,76,255,74.5,250,75.5],[262,73,268,73.5,265,71.5,262,73],[240,77,250,78,255,77,245,76,240,77],[301,47,304,47,304,49.5,302,51,301,47],[233,49,236,48.5,232,50.5,233,49],
[12,78,16,80,22,80,27,79,20,77,15,77,12,78],[53,71,56,74,68,77,58,75,53,71],[50,80.5,62,81,55,80,50,80.5],[95,80,105,79,100,78,95,80],[140,75,150,75,142,73.5,140,75],
[275.5,22,280,23,285.5,20,281,20,276,21.8,275.5,22],[287,20,291.5,18.5,288,18,287,20],[283,18,284,18.3,283.5,17.8,283,18],
[0,-70,10,-70,25,-70,35,-69,45,-67,55,-66.5,62,-67,70,-68,72,-70,78,-68.5,87,-66.5,100,-65.5,110,-66,120,-67,135,-66,145,-67.5,155,-69,165,-71,170,-72,170,-75,163,-77,165,-78,175,-82,200,-83,219,-85,199,-78.6,211,-75,230,-74,248,-74,260,-72,275,-73,287,-72,295,-68,302,-64,307,-63,300,-68,296,-72,287,-76,296,-80,306,-83,327,-79,342,-74,350,-71.5,360,-71]
];
// ---------- helpers ----------
const polyPts = c => { const p=[]; for(let i=0;i<c.length;i+=2) p.push({x:c[i],y:c[i+1]}); return p; };
const regionDataset = ([lvl,c]) => { const p=polyPts(c); p.push({...p[0]});
  return {data:p,showLine:true,fill:'shape',backgroundColor:levelColors[String(lvl)],borderColor:c===globe?'transparent':'rgba(60,60,60,.38)',borderWidth:c===globe?0:.8,pointRadius:0,tension:c===globe?0:.35}; };
const coastDataset = c => ({data:polyPts(c),showLine:true,fill:false,borderColor:'#111',borderWidth:1.1,borderJoinStyle:'round',pointRadius:0,tension:0});
const fixTicks = vals => s => { s.ticks = vals.map(v=>({value:v})); };
const noPad = s => { s.paddingTop=s.paddingBottom=s.paddingLeft=s.paddingRight=0; };
const frame = {id:'frame',afterDatasetsDraw(ch){const a=ch.chartArea,c=ch.ctx;c.save();c.strokeStyle='#8a8a8a';c.lineWidth=1.6;c.strokeRect(a.left,a.top,a.width,a.height);c.restore();}};
function addCanvas(left,top,w,h){const c=document.createElement('canvas');c.width=w;c.height=h;c.style.left=left+'px';c.style.top=top+'px';c.style.width=w+'px';c.style.height=h+'px';document.body.appendChild(c);return c;}
const mapFont = "'Liberation Sans',sans-serif";
function mapChart(box,title,regions){
  const lh=32.45;
  new Chart(addCanvas(box.left,box.top,box.w,box.h),{type:'scatter',plugins:[frame],
    data:{datasets:[...coastlines.map(coastDataset),...regions.map(regionDataset).reverse()]},
    options:{responsive:false,animation:false,maintainAspectRatio:false,
      layout:{autoPadding:false,padding:{right:box.right,left:0,top:0,bottom:0}},
      plugins:{legend:{display:false},tooltip:{enabled:false},filler:{drawTime:'beforeDatasetDraw',propagate:false},
        title:{display:true,text:title,fullSize:false,color:'#111',font:{family:mapFont,size:29.5,weight:'normal',lineHeight:1.1},padding:{top:box.titleTop,bottom:box.plotTop-box.top-box.titleTop-lh}}},
      scales:{
        x:{type:'linear',min:0,max:360,afterBuildTicks:fixTicks(mapLonTicks),afterFit:s=>{s.height=30;noPad(s)},
           border:{display:false},grid:{drawOnChartArea:false,tickLength:4,color:'#555'},
           ticks:{autoSkip:false,maxRotation:0,padding:box.xPad,color:'#111',font:{family:mapFont,size:19},callback:v=>mapLonLabels[mapLonTicks.indexOf(v)]}},
        y:{type:'linear',min:-90,max:90,afterBuildTicks:fixTicks(mapLatTicks),afterFit:s=>{s.width=box.plotLeft-box.left;noPad(s)},
           border:{display:false},grid:{drawOnChartArea:false,tickLength:4,color:'#555'},
           ticks:{autoSkip:false,padding:1,color:'#111',font:{family:mapFont,size:19},callback:v=>mapLatLabels[mapLatTicks.indexOf(v)]}}
      }}});
}
mapChart({left:0,top:0,w:630,h:362,right:16,plotLeft:72,plotTop:60,titleTop:27.3,xPad:-4},'EOF 2: 7.8 %',eofRegions);
mapChart({left:0,top:360,w:631,h:342,right:16,plotLeft:74,plotTop:401,titleTop:9.8,xPad:0},'LV 30: 3.1 %',lv30Regions);
mapChart({left:0,top:690,w:631,h:344,right:16,plotLeft:74,plotTop:733,titleTop:12.3,xPad:1},'LV 2: 2.2 %',lv2Regions);
// ---------- colour bars ----------
const barLevelKeys = ["-0.7","-0.5","-0.3","-0.1","0.1","0.3","0.5","0.7"];
function edgeDs(c,col){return {data:polyPts(c),showLine:true,fill:'shape',backgroundColor:col,borderColor:'rgba(100,100,100,.8)',borderWidth:.6,pointRadius:0,tension:0};}
function vBar(){
  const ds=[]; const e=eofBarTicks;
  for(let i=0;i<8;i++) ds.push(edgeDs([0,e[i],1,e[i],1,e[i+1],0,e[i+1],0,e[i]],levelColors[barLevelKeys[i]]));
  ds.push(edgeDs([0,-0.8,1,-0.8,0.5,-0.8765,0,-0.8],levelColors["-0.9"]));
  ds.push(edgeDs([0,0.8,1,0.8,0.5,0.8765,0,0.8],levelColors["0.9"]));
  new Chart(addCanvas(637,38,90,319),{type:'scatter',data:{datasets:ds},options:{responsive:false,animation:false,maintainAspectRatio:false,
    layout:{autoPadding:false,padding:{top:10,bottom:10,left:0,right:0}},
    plugins:{legend:{display:false},tooltip:{enabled:false}},
    scales:{x:{type:'linear',min:0,max:1,display:false},
      y:{type:'linear',position:'right',min:-0.8765,max:0.8765,afterBuildTicks:fixTicks(eofBarTicks),afterFit:s=>{s.width=57;noPad(s)},
        border:{display:false},grid:{drawOnChartArea:false,tickLength:7,color:'#444'},
        ticks:{autoSkip:false,padding:2,color:'#111',font:{family:mapFont,size:20},callback:v=>(v<0?'−':'')+Math.abs(v).toFixed(1)}}}}});
}
function hBar(){
  const ds=[]; const e=lvBarTicks;
  for(let i=0;i<8;i++) ds.push(edgeDs([e[i],0,e[i+1],0,e[i+1],1,e[i],1,e[i],0],levelColors[barLevelKeys[i]]));
  ds.push(edgeDs([-0.4,0,-0.4,1,-0.44,0.5,-0.4,0],levelColors["-0.9"]));
  ds.push(edgeDs([0.4,0,0.4,1,0.44,0.5,0.4,0],levelColors["0.9"]));
  new Chart(addCanvas(35,1040,613,85),{type:'scatter',data:{datasets:ds},options:{responsive:false,animation:false,maintainAspectRatio:false,
    layout:{autoPadding:false,padding:{top:5,bottom:0,left:10,right:10}},
    plugins:{legend:{display:false},tooltip:{enabled:false}},
    scales:{y:{type:'linear',min:0,max:1,display:false},
      x:{type:'linear',min:-0.44,max:0.44,afterBuildTicks:fixTicks(lvBarTicks),afterFit:s=>{s.height=42;noPad(s)},
        border:{display:false},grid:{drawOnChartArea:false,tickLength:7,color:'#444'},
        ticks:{autoSkip:false,maxRotation:0,padding:2,color:'#111',font:{family:mapFont,size:22.5},callback:v=>(Math.abs(v)<1e-9?'0.0':(v<0?'−':'')+Math.abs(v).toFixed(1))}}}}});
}
vBar();hBar();
// ---------- time series ----------
const dj="'DejaVu Sans',sans-serif";
const toXY = arr => arr.map((v,i)=>({x:firstYear+i,y:v}));
function tsChart(b,lvName,lvVals){
  const sets=[{label:'PC 2',data:toXY(pc2),borderColor:'#1f77b4',backgroundColor:'#1f77b4',borderWidth:3.6,borderJoinStyle:'round',pointRadius:0,tension:0,order:1},
              {label:lvName,data:toXY(lvVals),borderColor:'#ff7f0e',backgroundColor:'#ff7f0e',borderWidth:3.6,borderJoinStyle:'round',borderDash:[12,5],pointRadius:0,tension:0,order:0}];
  const titleOn=!!b.title;
  new Chart(addCanvas(b.left,b.top,b.w,b.h),{type:'line',data:{datasets:sets},options:{responsive:false,animation:false,maintainAspectRatio:false,
    layout:{autoPadding:false,padding:{left:0,right:b.right,top:b.padTop,bottom:0}},
    plugins:{legend:{display:false},tooltip:{enabled:false},
      title:{display:titleOn,text:b.title||'',fullSize:false,color:'#111',font:{family:dj,size:36.7,weight:'normal',lineHeight:1.2},padding:{top:13.6,bottom:4.36}}},
    scales:{
      x:{type:'linear',min:498.2,max:702.2,afterBuildTicks:fixTicks(yearTicks),afterFit:s=>{s.height=b.xh;noPad(s)},
        title:{display:!!b.xtitle,text:b.xtitle||'',color:'#111',font:{family:dj,size:30.5,lineHeight:1.2},padding:{top:0,bottom:12}},
        border:{display:true,color:'#333',width:2},grid:{color:'rgba(0,0,0,.05)',tickColor:'#333',tickLength:10,lineWidth:1.2,tickWidth:2},
        ticks:{autoSkip:false,maxRotation:0,padding:b.xTickPad,color:'#111',font:{family:dj,size:25.5},callback:v=>String(v)}},
      y:{type:'linear',min:b.ymin,max:b.ymax,afterBuildTicks:fixTicks(seriesTicks),afterFit:s=>{s.width=66;noPad(s)},
        border:{display:true,color:'#333',width:2},grid:{color:'rgba(0,0,0,.05)',tickColor:'#333',tickLength:11,lineWidth:1.2,tickWidth:2},
        ticks:{autoSkip:false,padding:4,color:'#111',font:{family:dj,size:25.5},callback:v=>(v<0?'−':'')+Math.abs(v)}}
    }}});
  // overlay legend
  const L=b.legend,leg=document.createElement('div');leg.className='t leg';
  leg.style.cssText=`left:${L.x}px;top:${L.y}px;width:${L.w}px;height:${L.h}px`;
  sets.forEach((s,i)=>{const rowY=L.rows[i]-L.y;
    const dash=s.borderDash?`stroke-dasharray="12 5"`:'';
    leg.insertAdjacentHTML('beforeend',`<svg style="position:absolute;left:5px;top:${rowY-5}px" width="70" height="8"><line x1="0" y1="4" x2="66" y2="4" stroke="${s.borderColor}" stroke-width="3.4" ${dash}/></svg><span style="position:absolute;left:89px;top:${rowY-13}px">${s.label}</span>`);});
  document.body.appendChild(leg);
  const r=document.createElement('div');r.className='t rbox';r.innerHTML=`<i>r</i>&nbsp;=&nbsp;${b.r}`;
  r.style.cssText=`left:728px;top:${b.rTop}px;width:144px;height:48px`;document.body.appendChild(r);
}
tsChart({left:640,top:345,w:1108,h:359,right:33,padTop:0,xh:41,xTickPad:1,ymin:-3.45,ymax:4.415,title:'Standardized time series: PC 2 and LV',
  legend:{x:1414,y:420,w:164,h:78,rows:[440,476]},r:'0.63',rTop:412},'LV 30',lv30);
tsChart({left:640,top:745,w:1108,h:358,right:33,padTop:7,xh:95.5,xTickPad:1.5,ymin:-2.73,ymax:4.326,xtitle:'years',
  legend:{x:1414,y:764,w:154,h:78,rows:[784,820]},r:'0.61',rTop:756},'LV 2',lv2);
// ---------- panel letters ----------
[['(a)',71,17],['(b)',71,357],['(d)',71,694],['(c)',703,357],['(e)',703,707]].forEach(([s,x,y])=>{
  const d=document.createElement('div');d.className='t panel';d.textContent=s;d.style.left=x+'px';d.style.top=y+'px';document.body.appendChild(d);});
</script>
</body></html>
